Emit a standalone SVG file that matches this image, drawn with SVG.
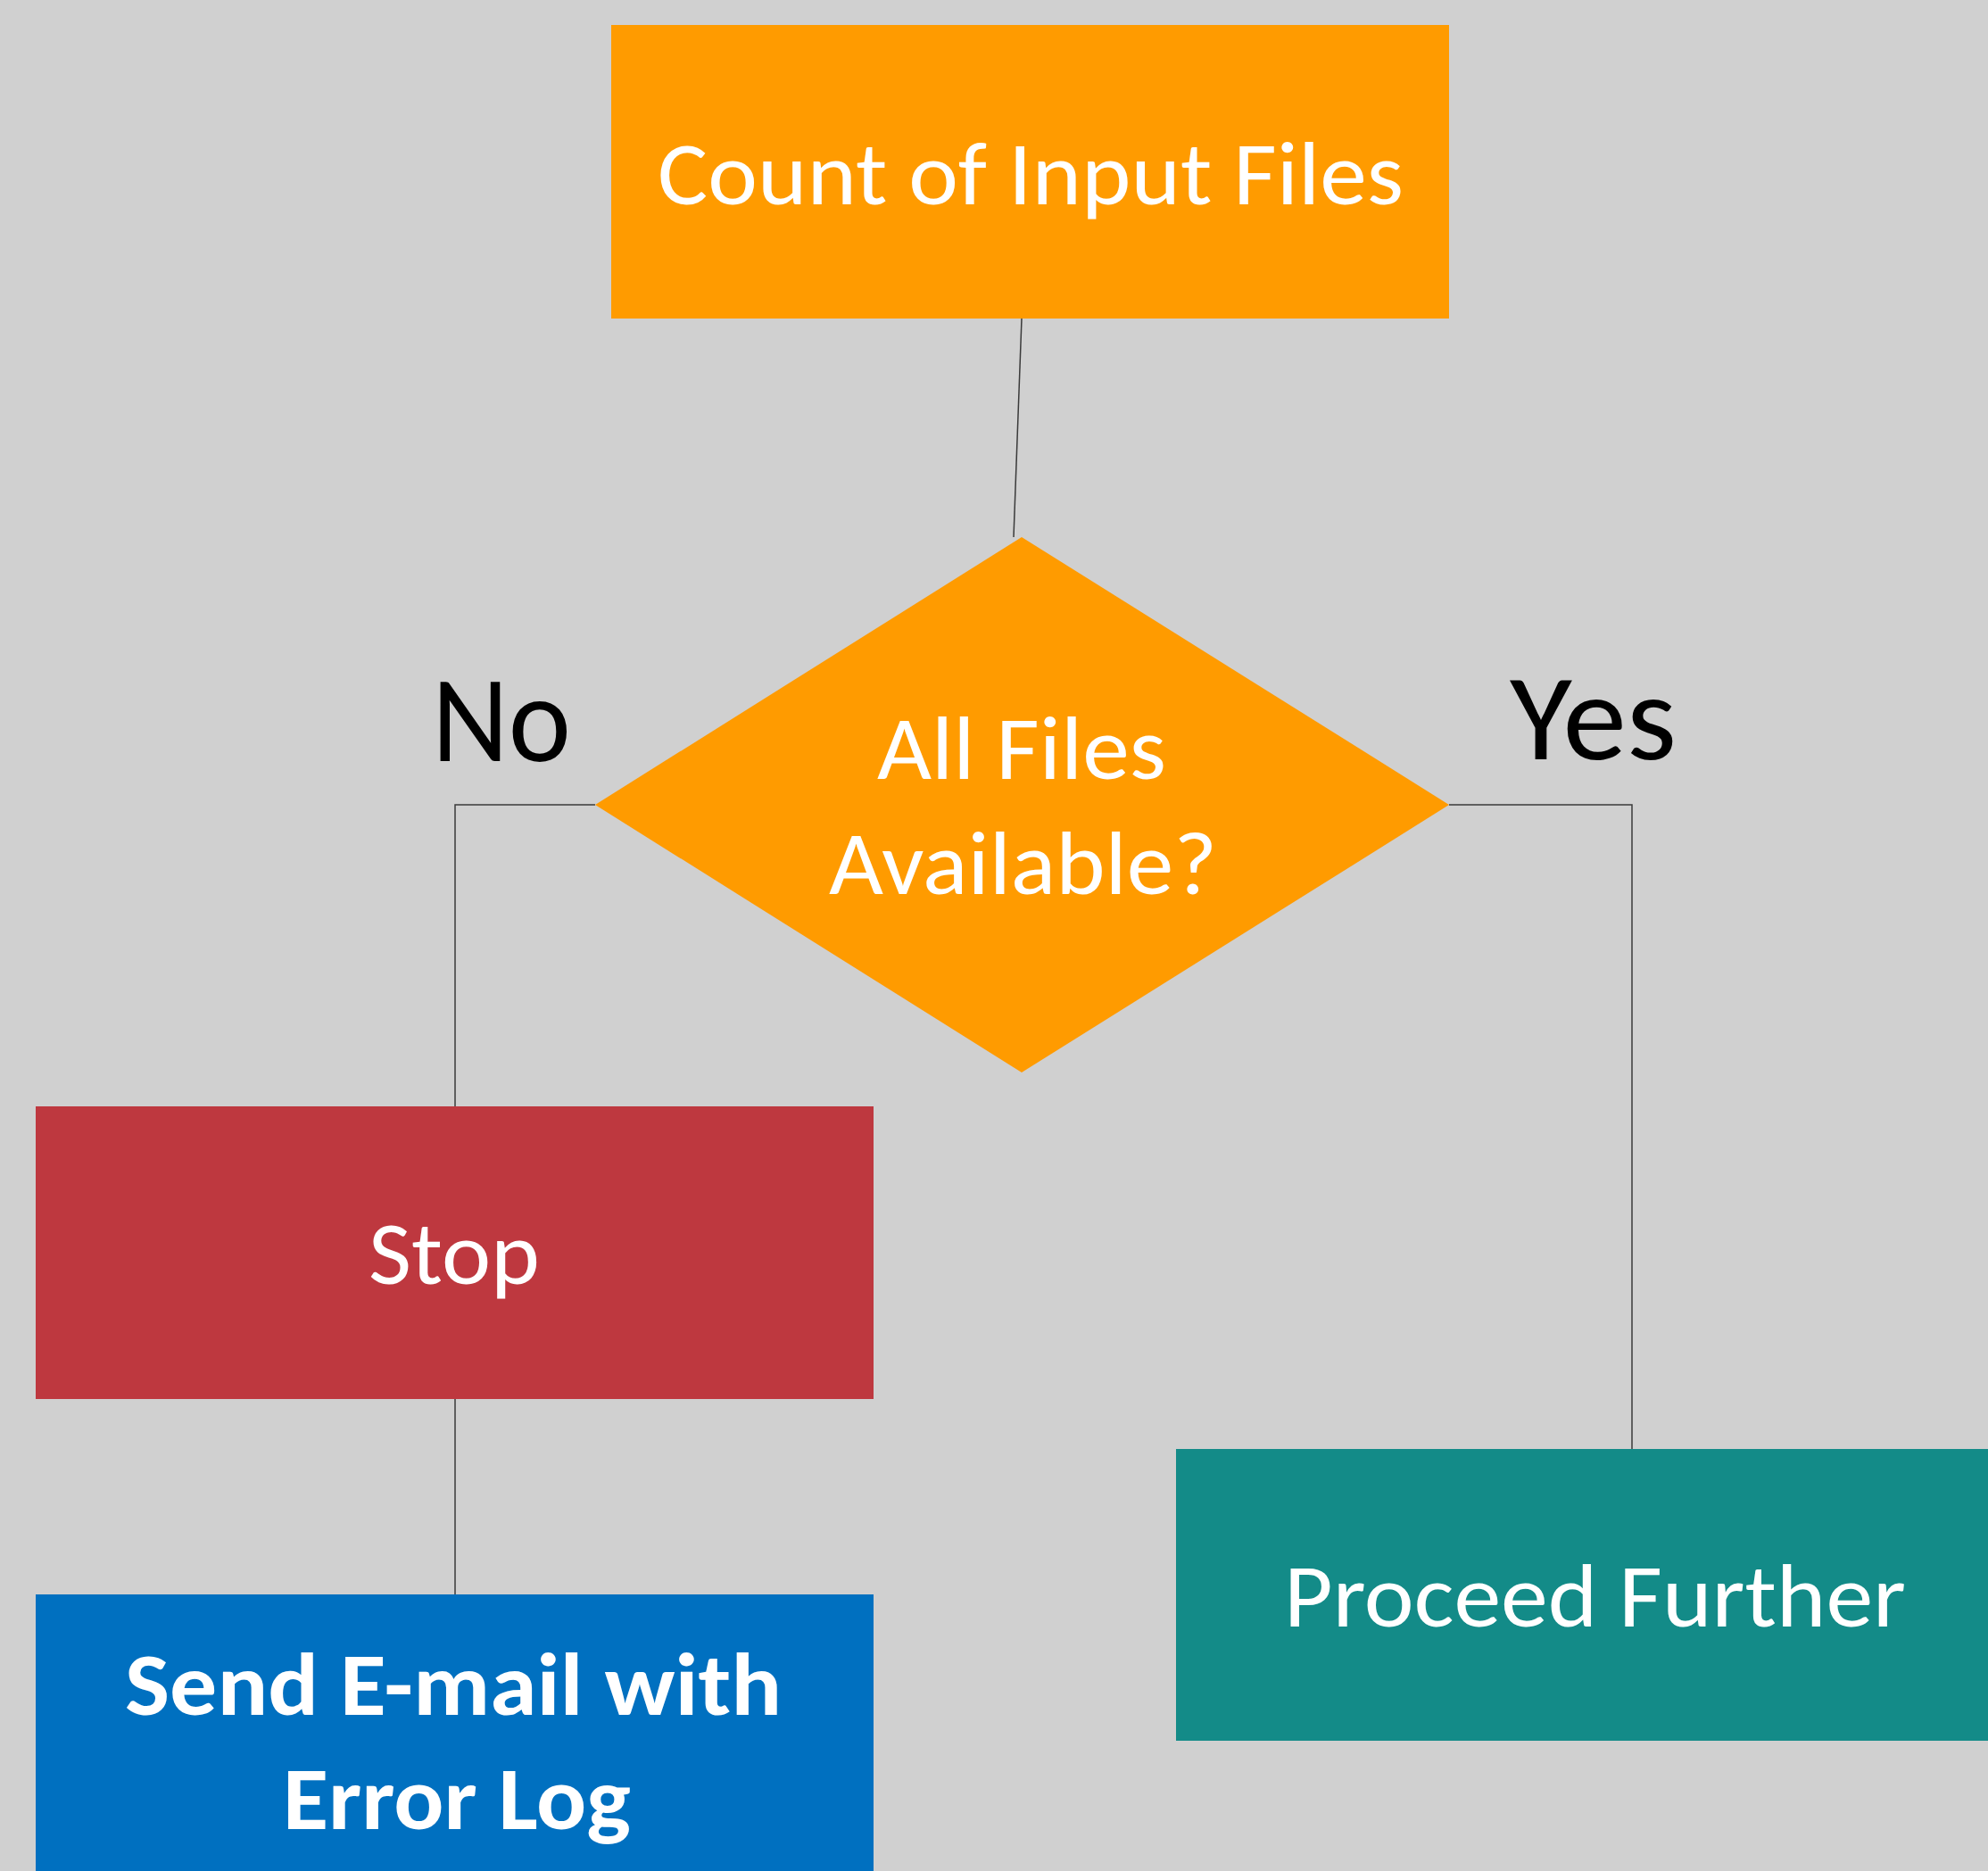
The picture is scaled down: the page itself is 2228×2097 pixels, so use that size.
<svg xmlns="http://www.w3.org/2000/svg" width="2228" height="2097" viewBox="0 0 2228 2097">
<style>
.t{font-family:Carlito,Lato,"Open Sans","Liberation Sans",sans-serif;fill:#ffffff;font-size:100px}
.b{font-weight:bold}
.lbl{font-family:Carlito,Lato,"Open Sans","Liberation Sans",sans-serif;fill:#000000;font-size:138px}
.c{fill:none;stroke:#3a3a3a;stroke-width:1.5}
</style>
<rect x="0" y="0" width="2228" height="2097" fill="#d0d0d0"/>
<g id="connectors">
<line class="c" x1="1145" y1="357" x2="1136" y2="602"/>
<polyline class="c" points="667,902 510,902 510,1240"/>
<polyline class="c" points="1624,902 1829,902 1829,1624"/>
<line class="c" x1="510" y1="1568" x2="510" y2="1787"/>
</g>
<g id="count">
<rect x="685" y="28" width="939" height="329" fill="#ff9b00"/>
<text class="t" x="737" y="229" textLength="836" lengthAdjust="spacingAndGlyphs">Count of Input Files</text>
</g>
<g id="decision">
<polygon points="1145,602 1624,902 1145,1202 667,902" fill="#ff9b00"/>
<text class="t" x="983" y="873" textLength="324" lengthAdjust="spacingAndGlyphs">All Files</text>
<text class="t" x="929" y="1002" textLength="435" lengthAdjust="spacingAndGlyphs">Available?</text>
</g>
<g id="label-no">
<text class="lbl" x="484" y="853" textLength="156" lengthAdjust="spacingAndGlyphs">No</text>
</g>
<g id="label-yes">
<text class="lbl" x="1692" y="851" textLength="187" lengthAdjust="spacingAndGlyphs">Yes</text>
</g>
<g id="stop">
<rect x="40" y="1240" width="939" height="328" fill="#be383f"/>
<text class="t" x="413" y="1439" textLength="192" lengthAdjust="spacingAndGlyphs">Stop</text>
</g>
<g id="email">
<rect x="40" y="1787" width="939" height="310" fill="#0070c0"/>
<text class="t b" x="140" y="1922" textLength="736" lengthAdjust="spacingAndGlyphs">Send E-mail with</text>
<text class="t b" x="317" y="2050" textLength="390" lengthAdjust="spacingAndGlyphs">Error Log</text>
</g>
<g id="proceed">
<rect x="1318" y="1624" width="910" height="327" fill="#138b88"/>
<text class="t" x="1439" y="1823" textLength="697" lengthAdjust="spacingAndGlyphs">Proceed Further</text>
</g>
</svg>
